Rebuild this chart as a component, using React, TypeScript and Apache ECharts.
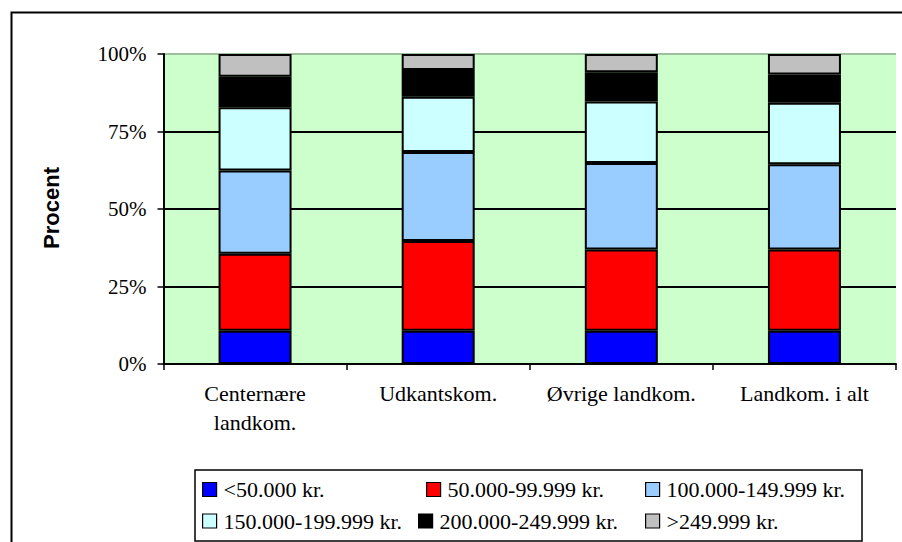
import React, { useEffect, useRef } from "react";
import * as echarts from "echarts";

const categories = ["Centernære\nlandkom.", "Udkantskom.", "Øvrige landkom.", "Landkom. i alt"];
const seriesNames = [
  "<50.000 kr.",
  "50.000-99.999 kr.",
  "100.000-149.999 kr.",
  "150.000-199.999 kr.",
  "200.000-249.999 kr.",
  ">249.999 kr.",
];
const seriesColors = ["#0000FF", "#FF0000", "#99CCFF", "#CCFFFF", "#000000", "#C0C0C0"];
const under50 = [10.7, 10.7, 10.7, 10.7];
const from50 = [24.9, 29.0, 26.2, 26.2];
const from100 = [26.8, 28.7, 27.9, 27.5];
const from150 = [20.4, 17.8, 19.9, 19.9];
const from200 = [9.9, 8.6, 9.4, 9.1];
const over250 = [7.3, 5.2, 5.9, 6.6];
const seriesValues = [under50, from50, from100, from150, from200, over250];
const yTicks = [0, 25, 50, 75, 100];

const serif = "'Liberation Serif', 'Times New Roman', serif";

// legend item anchor positions (left, center y)
const legendPos = [
  [202, 489.5],
  [426, 489.5],
  [645, 489.5],
  [202, 521],
  [418, 521],
  [645, 521],
];

export default function App() {
  const ref = useRef<HTMLDivElement>(null);
  useEffect(() => {
    if (!ref.current) return;
    const chart = echarts.init(ref.current, null, { renderer: "svg" });
    const option: any = {
      animation: false,
      backgroundColor: "#ffffff",
      grid: { left: 163.5, right: 6, top: 54, bottom: 178, show: true, backgroundColor: "#CCFFCC", borderWidth: 0 },
      xAxis: {
        type: "category",
        data: categories,
        axisLine: { show: true, lineStyle: { color: "#000", width: 2 } },
        axisTick: { show: true, length: 6, lineStyle: { color: "#000", width: 1.5 } },
        axisLabel: {
          fontFamily: serif,
          fontSize: 22,
          color: "#000",
          margin: 15,
          lineHeight: 29,
          interval: 0,
        },
      },
      yAxis: {
        type: "value",
        min: yTicks[0],
        max: yTicks[yTicks.length - 1],
        interval: 25,
        axisLine: { show: true, lineStyle: { color: "#000", width: 2 } },
        axisTick: { show: true, length: 6, lineStyle: { color: "#000", width: 1.5 } },
        axisLabel: {
          fontFamily: serif,
          fontSize: 21,
          color: "#000",
          margin: 17,
          formatter: "{value}%",
        },
        splitLine: {
          show: true,
          lineStyle: { color: ["#000", "#000", "#000", "#000", "#9DBF9D"], width: 2 },
        },
      },
      legend: seriesNames.map((name, i) => ({
        data: [name],
        left: legendPos[i][0],
        top: legendPos[i][1] - 11,
        padding: 0,
        itemWidth: 14,
        itemHeight: 14,
        itemGap: 0,
        icon: "rect",
        selectedMode: false,
        textStyle: { fontFamily: serif, fontSize: 22, color: "#000", padding: [0, 0, 0, 2] },
        itemStyle: { borderColor: "#000", borderWidth: 1.2 },
      })),
      series: seriesNames.map((name, i) => ({
        name,
        type: "bar",
        stack: "total",
        barWidth: 73,
        data: seriesValues[i],
        itemStyle: { color: seriesColors[i], borderColor: "#000", borderWidth: 2 },
      })),
      graphic: [
        {
          type: "rect",
          shape: { x: 11.5, y: 12.5, width: 960, height: 600 },
          style: { fill: "none", stroke: "#000", lineWidth: 2 },
          silent: true,
          z: -1,
        },
        {
          type: "rect",
          shape: { x: 195, y: 470, width: 667, height: 71 },
          style: { fill: "none", stroke: "#000", lineWidth: 1.5 },
          silent: true,
        },
        {
          type: "text",
          x: 51,
          y: 208,
          rotation: Math.PI / 2,
          style: {
            text: "Procent",
            fontFamily: "'Liberation Sans', Arial, sans-serif",
            fontWeight: "bold",
            fontSize: 22,
            fill: "#000",
            align: "center",
            verticalAlign: "middle",
          },
        },
      ],
    };
    chart.setOption(option);
    return () => chart.dispose();
  }, []);
  return (
    <div
      ref={ref}
      style={{ position: "fixed", left: 0, top: 0, width: 902, height: 542 }}
    />
  );
}
